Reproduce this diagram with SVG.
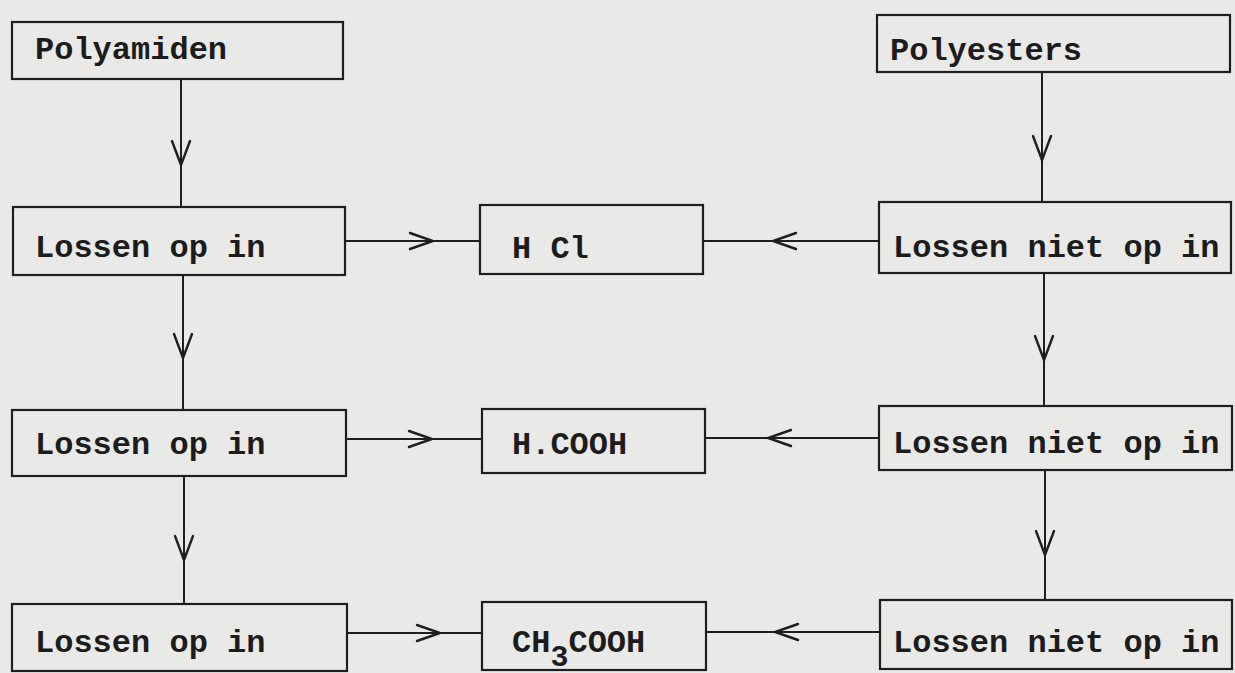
<svg xmlns="http://www.w3.org/2000/svg" xmlns:xlink="http://www.w3.org/1999/xlink" width="1235" height="673" viewBox="0 0 1235 673">
  <style>
    .box { fill: none; stroke: #1e1e1e; stroke-width: 2.2; }
    .lbl { font-family: "Liberation Mono", "DejaVu Sans Mono", monospace; font-size: 32px; font-weight: bold; fill: #1c1c1c; }
    .sub { font-size: 30px; }
    .con { fill: none; stroke: #1e1e1e; stroke-width: 2; }
    .head { fill: none; stroke: #1e1e1e; stroke-width: 2.4; stroke-linejoin: miter; stroke-linecap: round; }
  </style>
  <defs>
    <path id="ahd" class="head" d="M-9,-24 L0,0 L9,-24"/>
    <path id="ahr" class="head" d="M-23,-8 L0,0 L-23,8"/>
    <path id="ahl" class="head" d="M23,-8 L0,0 L23,8"/>
  </defs>
  <rect width="1235" height="673" fill="#e9e9e7"/>

  <g id="connectors">
    <path class="con" d="M181,79 V207"/>
    <use xlink:href="#ahd" x="181" y="165"/>
    <path class="con" d="M183,275 V410"/>
    <use xlink:href="#ahd" x="183" y="358"/>
    <path class="con" d="M184,476 V604"/>
    <use xlink:href="#ahd" x="184" y="560"/>

    <path class="con" d="M1042,72 V202"/>
    <use xlink:href="#ahd" x="1042" y="160"/>
    <path class="con" d="M1044,273 V406"/>
    <use xlink:href="#ahd" x="1044" y="360"/>
    <path class="con" d="M1045,470 V600"/>
    <use xlink:href="#ahd" x="1045" y="555"/>

    <path class="con" d="M345,241 H480"/>
    <use xlink:href="#ahr" x="433" y="241"/>
    <path class="con" d="M346,439 H482"/>
    <use xlink:href="#ahr" x="432" y="439"/>
    <path class="con" d="M347,633 H482"/>
    <use xlink:href="#ahr" x="440" y="633"/>

    <path class="con" d="M879,241 H703"/>
    <use xlink:href="#ahl" x="773" y="241"/>
    <path class="con" d="M879,438 H705"/>
    <use xlink:href="#ahl" x="768" y="438"/>
    <path class="con" d="M880,632 H706"/>
    <use xlink:href="#ahl" x="775" y="632"/>
  </g>

  <g id="polyamiden">
    <rect class="box" x="12" y="22" width="331" height="57"/>
    <text class="lbl" x="35" y="59">Polyamiden</text>
  </g>
  <g id="polyesters">
    <rect class="box" x="877" y="15" width="353" height="57"/>
    <text class="lbl" x="890" y="60">Polyesters</text>
  </g>

  <g id="lossen-op-1">
    <rect class="box" x="13" y="207" width="332" height="68"/>
    <text class="lbl" x="35" y="257">Lossen op in</text>
  </g>
  <g id="lossen-op-2">
    <rect class="box" x="12" y="410" width="334" height="66"/>
    <text class="lbl" x="35" y="454">Lossen op in</text>
  </g>
  <g id="lossen-op-3">
    <rect class="box" x="12" y="604" width="335" height="67"/>
    <text class="lbl" x="35" y="652">Lossen op in</text>
  </g>

  <g id="hcl">
    <rect class="box" x="480" y="205" width="223" height="69"/>
    <text class="lbl" x="512" y="258">H Cl</text>
  </g>
  <g id="hcooh">
    <rect class="box" x="482" y="409" width="223" height="64"/>
    <text class="lbl" x="512" y="454">H.COOH</text>
  </g>
  <g id="ch3cooh">
    <rect class="box" x="482" y="602" width="224" height="68"/>
    <text class="lbl" x="512" y="652">CH<tspan class="sub" dy="14">3</tspan><tspan dy="-14">COOH</tspan></text>
  </g>

  <g id="lossen-niet-1">
    <rect class="box" x="879" y="202" width="352" height="71"/>
    <text class="lbl" x="893" y="257">Lossen niet op in</text>
  </g>
  <g id="lossen-niet-2">
    <rect class="box" x="879" y="406" width="353" height="64"/>
    <text class="lbl" x="893" y="453">Lossen niet op in</text>
  </g>
  <g id="lossen-niet-3">
    <rect class="box" x="880" y="600" width="352" height="69"/>
    <text class="lbl" x="893" y="652">Lossen niet op in</text>
  </g>
</svg>
